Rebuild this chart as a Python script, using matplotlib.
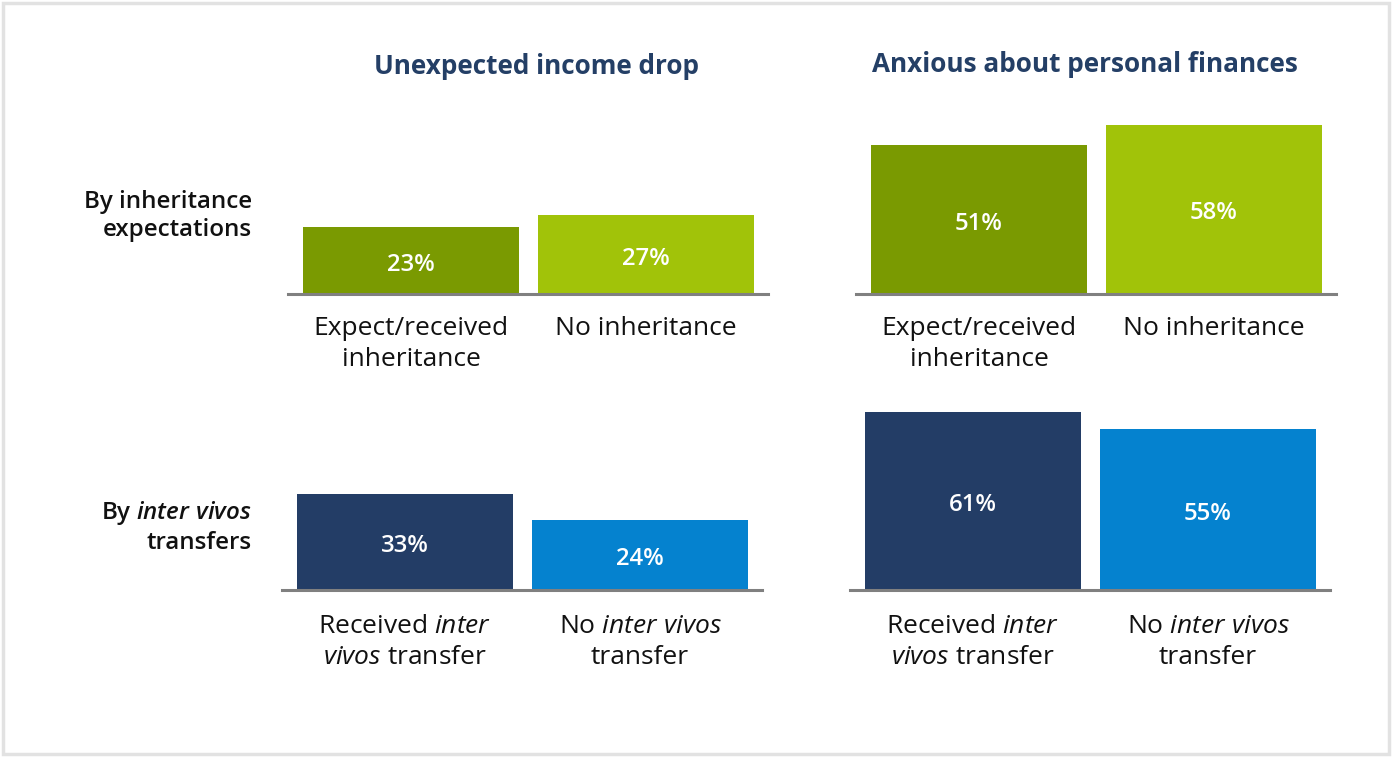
import matplotlib
matplotlib.use("Agg")
import matplotlib.pyplot as plt
from matplotlib.patches import Rectangle

plt.rcParams["font.family"] = ["Open Sans", "DejaVu Sans"]
plt.rcParams["mathtext.fontset"] = "custom"
plt.rcParams["mathtext.rm"] = "Open Sans"
plt.rcParams["mathtext.it"] = "Open Sans:italic"
plt.rcParams["mathtext.bf"] = "Open Sans:bold"
plt.rcParams["mathtext.bfit"] = "Open Sans:italic:semibold"

# data
titles = ["Unexpected income drop", "Anxious about personal finances"]
row_labels = ["By inheritance\nexpectations", "By $\\mathbfit{inter\\ vivos}$\ntransfers"]
inherit_cats = ["Expect/received\ninheritance", "No inheritance"]
transfer_cats = ["Received $\\mathit{inter}$\n$\\mathit{vivos}$ transfer",
                 "No $\\mathit{inter\\ vivos}$\ntransfer"]
income_drop_inherit = [23, 27]
anxious_inherit = [51, 58]
income_drop_transfer = [33, 24]
anxious_transfer = [61, 55]

inherit_colors = ["#7a9a01", "#a1c309"]
transfer_colors = ["#233d66", "#0582cf"]
navy = "#243f66"

W, H = 1392, 757
fig = plt.figure(figsize=(W / 100, H / 100), dpi=100)

px_per_pct = 2.92
ax_h = 200


def panel(x0, ybase, values, cats, colors, pad):
    ax = fig.add_axes([x0 / W, 1 - ybase / H, 480 / W, ax_h / H])
    bars = ax.bar([0, 1], values, width=0.919, color=colors, zorder=1)
    ax.set_xlim(-0.523, 1.519)
    ax.set_ylim(0, ax_h / px_per_pct)
    labels = ax.bar_label(bars, labels=[f"{v}%" for v in values], label_type="center",
                          color="white", fontsize=17.2, fontweight="semibold")
    for t in labels:
        t.xyann = (0, -3)
    for s in ["top", "left", "right"]:
        ax.spines[s].set_visible(False)
    ax.spines["bottom"].set_color("#808080")
    ax.spines["bottom"].set_linewidth(2.2)
    ax.spines["bottom"].set_zorder(3)
    ax.set_yticks([])
    ax.set_xticks([0, 1], cats)
    ax.tick_params(axis="x", length=0, pad=pad, labelsize=19, labelcolor="#111111")
    for t in ax.get_xticklabels():
        t.set_linespacing(1.32)
    ax.patch.set_visible(False)
    return ax


panel(288, 294, income_drop_inherit, inherit_cats, inherit_colors, 16)
panel(856, 294, anxious_inherit, inherit_cats, inherit_colors, 16)
panel(282, 590, income_drop_transfer, transfer_cats, transfer_colors, 17.5)
panel(850, 590, anxious_transfer, transfer_cats, transfer_colors, 17.5)

fig.text(536 / W, 1 - 67 / H, titles[0], ha="center", va="center",
         fontsize=18.8, fontweight="bold", color=navy)
fig.text(1085 / W, 1 - 64 / H, titles[1], ha="center", va="center",
         fontsize=18.8, fontweight="bold", color=navy)

fig.text(252 / W, 1 - 216 / H, row_labels[0], ha="right", va="center",
         multialignment="right", fontsize=17.4, fontweight="semibold", color="#111111",
         linespacing=1.22)
fig.text(252 / W, 1 - 527 / H, row_labels[1], ha="right", va="center",
         multialignment="right", fontsize=17.4, fontweight="semibold", color="#111111",
         linespacing=1.22)

fig.add_artist(Rectangle((3 / W, 3 / H), (W - 6) / W, (H - 6) / H, transform=fig.transFigure,
                         fill=False, edgecolor="#e2e2e2", linewidth=2.5))

fig.savefig("out.png", dpi=100)
